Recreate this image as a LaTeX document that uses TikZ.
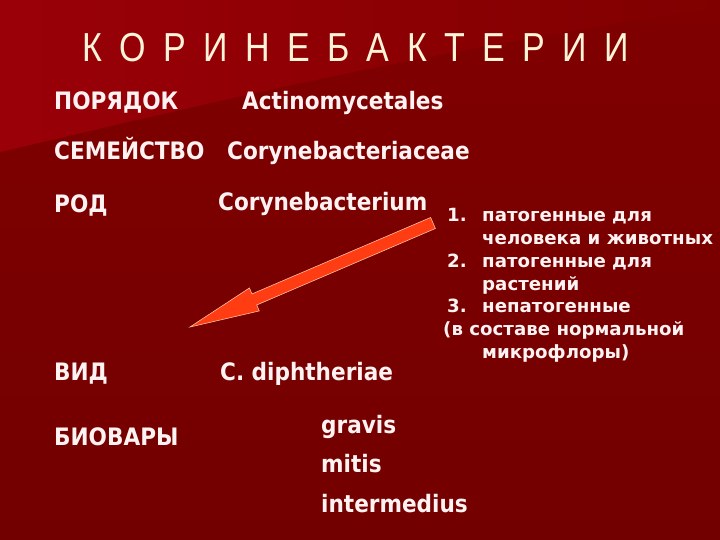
\documentclass[tikz,border=0pt]{standalone}
\usepackage{fontspec}
\usetikzlibrary{calc}
\setmainfont{DejaVu Sans}
\newfontfamily\titlefont[FakeStretch=0.84,LetterSpace=19.6]{Liberation Sans}
\newfontfamily\labelfont{DejaVu Sans Condensed}
\definecolor{bgtop}{HTML}{800000}
\definecolor{bgred}{HTML}{730000}
\definecolor{swooshred}{HTML}{9A0008}
\definecolor{txtwhite}{HTML}{FFF2F2}
\definecolor{titlecream}{HTML}{FFF4D8}
\definecolor{arrowred}{HTML}{FF3C12}
\definecolor{arrowedge}{HTML}{FFC0A0}
\newcommand{\numitem}[1]{\makebox[39pt][l]{\hspace*{4pt}#1}}
\newcommand{\indline}{\hspace*{39pt}}
\begin{document}
\begin{tikzpicture}[x=1pt,y=-1pt,
    every node/.style={inner sep=0pt,text=txtwhite},
    lbl/.style={anchor=base west,font=\labelfont\bfseries\fontsize{24}{28}\selectfont}]
        \useasboundingbox (0,0) rectangle (720,540);
        \shade[top color=bgtop,bottom color=bgred] (0,0) rectangle (720,540);
        \shade[left color=swooshred,right color=bgtop] (0,0) -- (720,0) -- (720,8) .. controls (420,50) and (160,115) .. (0,152) -- cycle;
        % title
        \node[anchor=base west,text=titlecream,font=\titlefont\fontsize{40.5}{44}\selectfont] (title) at (82,62) {К О Р И Н Е Б А К Т Е Р И И};
        % ranks and names
        \node[lbl] (order) at (54,110) {ПОРЯДОК};
        \node[lbl] (ordername) at (242,110) {Actinomycetales};
        \node[lbl] (family) at (54,160) {СЕМЕЙСТВО};
        \node[lbl] (familyname) at (227,160) {Corynebacteriaceae};
        \node[lbl] (genus) at (54,212) {РОД};
        \node[lbl] (genusname) at (218,211) {Corynebacterium};
        \node[lbl] (species) at (54,380) {ВИД};
        \node[lbl] (speciesname) at (220,380) {C. diphtheriae};
        \node[lbl] (biovars) at (54,445) {БИОВАРЫ};
        \node[lbl] (gravis) at (321,433) {gravis};
        \node[lbl] (mitis) at (321,472) {mitis};
        \node[lbl] (intermedius) at (321,512) {intermedius};
        % groups of the genus
        \node[anchor=base west,font=\bfseries\fontsize{18.2}{22.7}\selectfont] (groups) at (443,222) {%
            \begin{tabular}[t]{@{}l@{}}
            \numitem{1.}патогенные для\\
            \indline человека и животных\\
            \numitem{2.}патогенные для\\
            \indline растений\\
            \numitem{3.}непатогенные\\
            (в составе нормальной\\
            \indline микрофлоры)
            \end{tabular}};
        % arrow
        \coordinate (tail) at (433,223);
        \coordinate (tip) at (190,327);
        \coordinate (head) at ($(tip)!70pt!(tail)$);
        \draw[arrowedge,fill=arrowred,line width=0.6pt,line join=miter]
            ($(tail)!6pt!90:(tip)$) -- ($(head)!6pt!-90:(tail)$) -- ($(head)!12.5pt!-90:(tail)$) -- (tip)
            -- ($(head)!12.5pt!90:(tail)$) -- ($(head)!6pt!90:(tail)$) -- ($(tail)!6pt!-90:(tip)$) -- cycle;
    \end{tikzpicture}
\end{document}
